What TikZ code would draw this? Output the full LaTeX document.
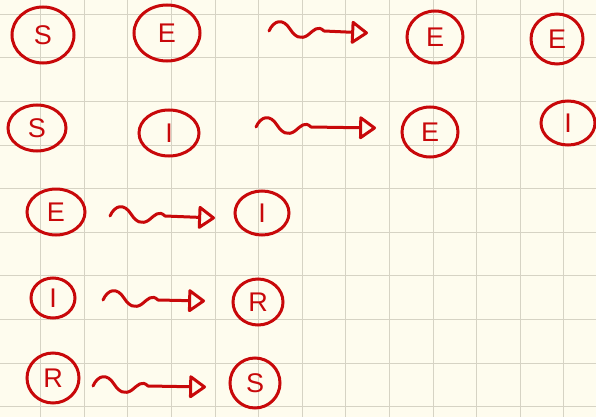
\documentclass[tikz,border=0pt]{standalone}
\usepackage{fontspec}
\setmainfont{Liberation Sans}
\usetikzlibrary{arrows.meta,shapes.geometric,calc}
\definecolor{paper}{RGB}{254,252,238}
\definecolor{gridc}{RGB}{214,211,196}
\definecolor{ink}{RGB}{200,8,10}
\tikzset{
  letter/.style={ellipse, draw=ink, line width=3pt, text=ink, inner sep=0pt,
    font=\fontsize{27}{27}\selectfont},
  squig/.style={draw=ink, line width=3pt, line cap=round, line join=round,
    -{Triangle[open,length=18pt,width=25pt,round]},
    to path={
      .. controls ($(\tikztostart)+(5,-11)$) and ($(\tikztostart)+(14,-13)$) .. ($(\tikztostart)+(21,-2)$)
      .. controls ($(\tikztostart)+(26,6)$) and ($(\tikztostart)+(32,9)$) .. ($(\tikztostart)+(39,4)$)
      .. controls ($(\tikztostart)+(45,-1)$) and ($(\tikztostart)+(49,-6)$) .. ($(\tikztostart)+(55,0)$)
      -- (\tikztotarget)}}
}
\begin{document}
\begin{tikzpicture}[x=1pt,y=-1pt]
\useasboundingbox (0,0) rectangle (596,417);
\fill[paper] (0,0) rectangle (596,417);
\foreach \k in {0,...,12} \draw[gridc,line width=1pt] ({40.7+43.6*\k},0) -- ({40.7+43.6*\k},417);
\foreach \k in {0,...,9} \draw[gridc,line width=1pt] (0,{14.3+43.6*\k}) -- (596,{14.3+43.6*\k});
% row 1
\node[letter,minimum width=62pt,minimum height=56pt] (s1) at (43,35) {S};
\node[letter,minimum width=66pt,minimum height=56pt] (e1) at (167,33) {E};
\node[letter,minimum width=56pt,minimum height=52pt] (e2) at (435,37) {E};
\node[letter,minimum width=52pt,minimum height=50pt] (e3) at (557,39) {E};
% row 2
\node[letter,minimum width=58pt,minimum height=46pt] (s2) at (37,128) {S};
\node[letter,minimum width=60pt,minimum height=46pt] (i1) at (169,133) {I};
\node[letter,minimum width=56pt,minimum height=50pt] (e4) at (430,132) {E};
\node[letter,minimum width=54pt,minimum height=44pt] (i2) at (568,123) {I};
% row 3
\node[letter,minimum width=58pt,minimum height=46pt] (e5) at (56,212) {E};
\node[letter,minimum width=54pt,minimum height=44pt] (i3) at (262,213) {I};
% row 4
\node[letter,minimum width=44pt,minimum height=40pt] (i4) at (53,298) {I};
\node[letter,minimum width=50pt,minimum height=46pt] (r1) at (258,302) {R};
% row 5
\node[letter,minimum width=52pt,minimum height=50pt] (r2) at (53,378) {R};
\node[letter,minimum width=50pt,minimum height=50pt] (s3) at (255,383) {S};
% arrows
\coordinate (a1s) at (269,31);  \coordinate (a1e) at (368,33);
\coordinate (a2s) at (256,127); \coordinate (a2e) at (376,128);
\coordinate (a3s) at (110,216); \coordinate (a3e) at (215,218);
\coordinate (a4s) at (103,300); \coordinate (a4e) at (205,301);
\coordinate (a5s) at (93,386);  \coordinate (a5e) at (206,387);
\draw[squig] (a1s) to (a1e);
\draw[squig] (a2s) to (a2e);
\draw[squig] (a3s) to (a3e);
\draw[squig] (a4s) to (a4e);
\draw[squig] (a5s) to (a5e);
\end{tikzpicture}
\end{document}
